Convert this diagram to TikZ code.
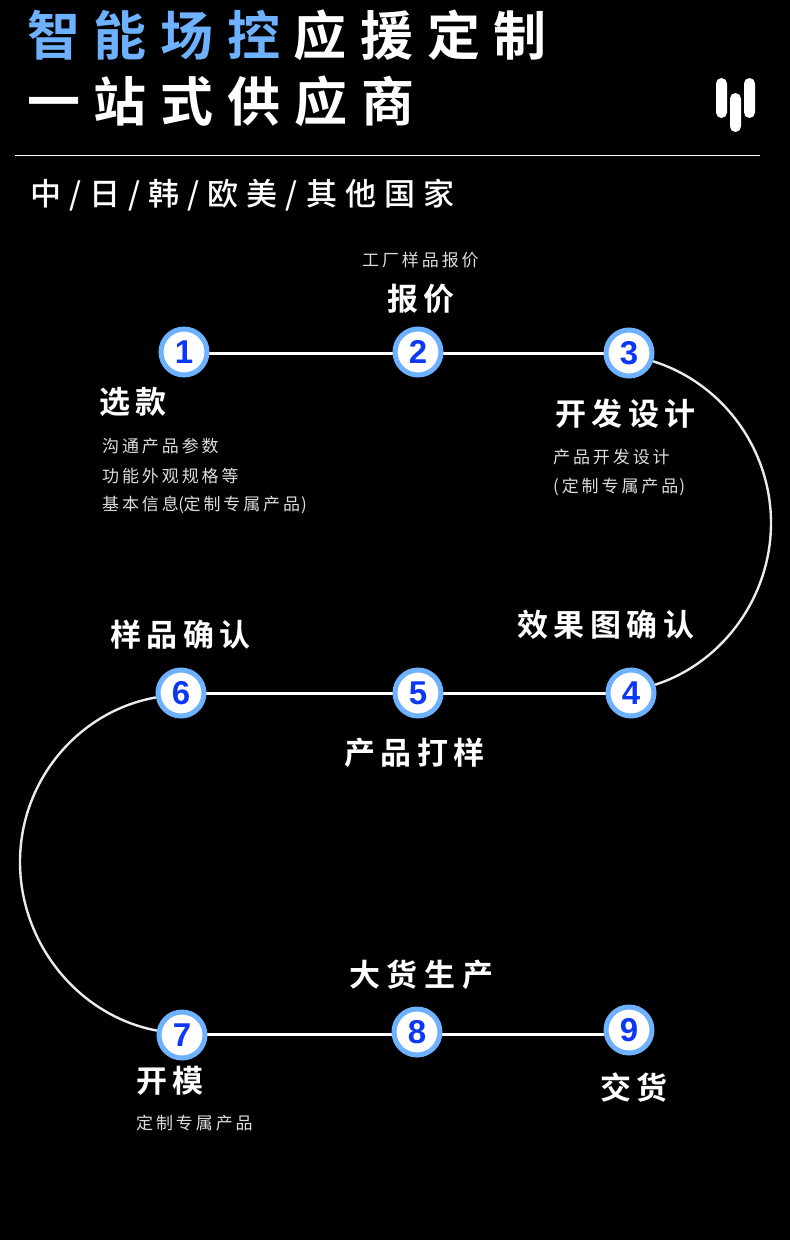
\documentclass[tikz,border=0pt]{standalone}
\usepackage{fontspec}
\usetikzlibrary{backgrounds}
\newfontfamily\titlef[LetterSpace=26]{Noto Sans CJK SC Bold}
\newfontfamily\subf[LetterSpace=26]{Noto Sans CJK SC Medium}
\newfontfamily\headf[LetterSpace=18]{Noto Sans CJK SC Bold}
\newfontfamily\headwidef[LetterSpace=22]{Noto Sans CJK SC Bold}
\newfontfamily\smallf[LetterSpace=17]{Noto Sans CJK SC}
\setsansfont{Liberation Sans}
\definecolor{ringblue}{HTML}{6DB1FF}
\definecolor{digitblue}{HTML}{0B37F5}
\definecolor{softgrey}{HTML}{DDDDDD}
\newcommand{\lp}{\hspace{-0.5pt}(\hspace{-0.5pt}}
\newcommand{\rp}{\hspace{1pt})}
\tikzset{
  x=1pt,y=-1pt,
  stepdot/.style={circle,draw=ringblue,line width=5pt,fill=white,minimum size=46pt,inner sep=0pt,text=digitblue,font=\sffamily\bfseries\fontsize{33}{33}\selectfont},
  link/.style={draw=white,line width=3pt},
  curvelink/.style={draw=white!92!black,line width=2.4pt},
  titletext/.style={anchor=west,inner sep=0pt,text=white,font=\titlef\fontsize{53}{53}\selectfont},
  subtext/.style={anchor=west,inner sep=0pt,text=white,font=\subf\fontsize{31}{31}\selectfont},
  headtext/.style={anchor=west,inner sep=0pt,text=white,font=\headf\fontsize{31}{31}\selectfont},
  headwide/.style={anchor=west,inner sep=0pt,text=white,font=\headwidef\fontsize{31}{31}\selectfont},
  smalltext/.style={anchor=west,inner sep=0pt,text=softgrey,font=\smallf\fontsize{17}{17}\selectfont},
  logobar/.style={fill=white,rounded corners=5.5pt,draw=none}
}
\begin{document}
\begin{tikzpicture}
\useasboundingbox (0,0) rectangle (790,1240);
% title
\node[titletext] (t1) at (27,35) {\textcolor{ringblue}{智能场控}\hspace{13pt}应援定制};
\node[titletext] (t2) at (27,101) {一站式供应商};
\fill[logobar] (716,78) rectangle (727,118);
\fill[logobar] (730,93) rectangle (741,132);
\fill[logobar] (744,78) rectangle (755,118);
\coordinate (ruleL) at (15,155.5);
\coordinate (ruleR) at (760,155.5);
\draw[white,line width=1.5pt] (ruleL) -- (ruleR);
\node[subtext] (t3) at (30,195) {中/日/韩/欧美/其他国家};
% steps
\node[stepdot] (n1) at (184,352) {1};
\node[stepdot] (n2) at (418,352) {2};
\node[stepdot] (n3) at (629,353) {3};
\node[stepdot] (n4) at (631,693) {4};
\node[stepdot] (n5) at (418,693) {5};
\node[stepdot] (n6) at (181,693) {6};
\node[stepdot] (n7) at (182,1035) {7};
\node[stepdot] (n8) at (417,1032) {8};
\node[stepdot] (n9) at (629,1030) {9};
% connectors behind the steps
\coordinate (rowa) at (0,353);
\coordinate (rowb) at (0,693);
\coordinate (rowc) at (0,1034);
\coordinate (rmid) at (771,523);
\coordinate (lmid) at (20,862);
\begin{scope}[on background layer]
\fill[black] (0,0) rectangle (790,1240);
\draw[link] (n1 |- rowa) -- (n2 |- rowa);
\draw[link] (n2 |- rowa) -- (n3 |- rowa);
\draw[link] (n4 |- rowb) -- (n5 |- rowb);
\draw[link] (n5 |- rowb) -- (n6 |- rowb);
\draw[link] (n7 |- rowc) -- (n8 |- rowc);
\draw[link] (n8 |- rowc) -- (n9 |- rowc);
\draw[curvelink] (n3.-19) .. controls (722.5,383) and (771,449) .. (rmid) .. controls (771,597) and (722.5,663) .. (n4.19);
\draw[curvelink] (n6.190) .. controls (79,711) and (20,780) .. (lmid) .. controls (20,944) and (79,1016) .. (n7.170);
\end{scope}
% labels
\node[smalltext] (a0) at (362,260.5) {工厂样品报价};
\node[headtext] (a1) at (387,299) {报价};
\node[headtext] (b1) at (99,402) {选款};
\node[smalltext] (b2) at (102,446.5) {沟通产品参数};
\node[smalltext] (b3) at (102,475.5) {功能外观规格等};
\node[smalltext] (b4) at (102,504.5) {基本信息\lp 定制专属产品\rp};
\node[headtext] (c1) at (555,414) {开发设计};
\node[smalltext] (c2) at (553,457.5) {产品开发设计};
\node[smalltext] (c3) at (553,486.5) {(定制专属产品\rp};
\node[headtext] (d1) at (517,625) {效果图确认};
\node[headtext] (e1) at (344,753) {产品打样};
\node[headtext] (f1) at (110,635) {样品确认};
\node[headwide] (g1) at (349,975) {大货生产};
\node[headtext] (h1) at (136,1081) {开模};
\node[smalltext] (h2) at (136,1123.5) {定制专属产品};
\node[headtext] (i1) at (600,1088) {交货};
\end{tikzpicture}
\end{document}
